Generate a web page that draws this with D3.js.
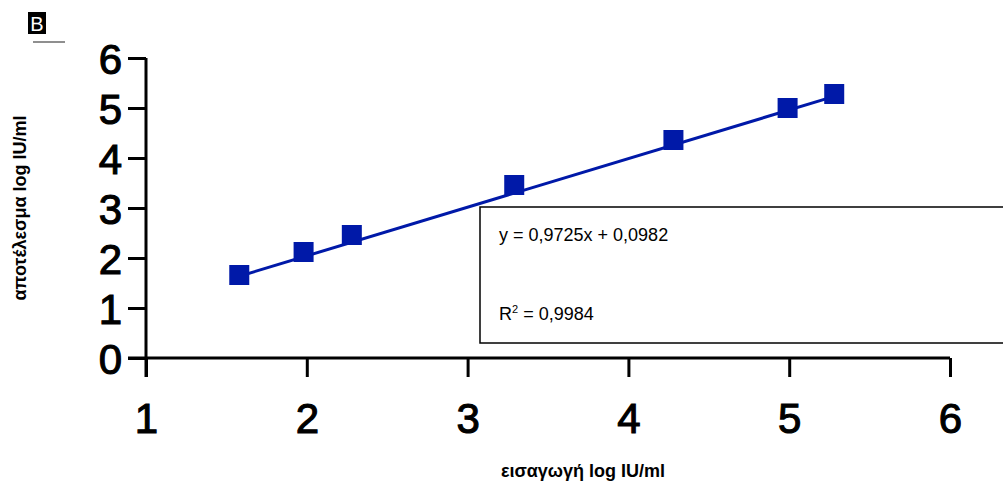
<!DOCTYPE html>
<html>
<head>
<meta charset="utf-8">
<script src="https://cdn.jsdelivr.net/npm/d3@7"></script>
<style>
  body { margin: 0; background: #fff; }
  svg { display: block; font-family: "Liberation Sans", Arial, sans-serif; }
</style>
</head>
<body>
<svg id="chart" width="1003" height="483"></svg>
<script>
const inputLog = [1.58, 1.98, 2.28, 3.29, 4.28, 4.99, 5.28];
const resultLog = [1.66, 2.12, 2.46, 3.46, 4.36, 5.0, 5.28];
const xTicks = [1, 2, 3, 4, 5, 6];
const yTicks = [0, 1, 2, 3, 4, 5, 6];
const slope = 0.9725;
const intercept = 0.0982;
const eqText = 'y = 0,9725x + 0,0982';
const r2Value = ' = 0,9984';

const blue = '#0019a8';
const svg = d3.select('#chart');

const x = d3.scaleLinear().domain([1, 6]).range([146, 950]);
const y = d3.scaleLinear().domain([0, 6]).range([358, 58]);

// "B" panel label
svg.append('rect').attr('x', 28).attr('y', 12).attr('width', 18).attr('height', 22).attr('fill', '#000');
svg.append('text').attr('x', 37).attr('y', 31).attr('text-anchor', 'middle')
    .attr('fill', '#fff').style('font-size', '20px').text('B');
svg.append('line').attr('x1', 33).attr('x2', 65).attr('y1', 42).attr('y2', 42)
    .attr('stroke', '#444').attr('stroke-width', 1.2);

// y axis
const yAxis = svg.append('g').attr('transform', 'translate(146,0)')
    .call(d3.axisLeft(y).tickValues(yTicks).tickSize(18).tickPadding(6).tickFormat(d3.format('d')));
yAxis.select('.domain').remove();
yAxis.append('line').attr('x1', 0).attr('x2', 0).attr('y1', y(6)).attr('y2', 377)
    .attr('stroke', '#000').attr('stroke-width', 3);
yAxis.selectAll('.tick line').attr('stroke-width', 3);
yAxis.selectAll('.tick text').attr('fill', '#000').attr('dy', '0.38em')
    .style('font-size', '42px').style('stroke', '#000').style('stroke-width', '1.1px');

// x axis
const xAxis = svg.append('g').attr('transform', 'translate(0,358)')
    .call(d3.axisBottom(x).tickValues(xTicks).tickSize(19).tickPadding(26).tickFormat(d3.format('d')));
xAxis.select('.domain').remove();
xAxis.append('line').attr('x1', 128).attr('x2', x(6)).attr('y1', 0).attr('y2', 0)
    .attr('stroke', '#000').attr('stroke-width', 3);
xAxis.selectAll('.tick line').attr('stroke-width', 3);
xAxis.selectAll('.tick text').attr('fill', '#000')
    .style('font-size', '42px').style('stroke', '#000').style('stroke-width', '1.1px');

// axis titles
svg.append('text').attr('x', 583).attr('y', 477).attr('text-anchor', 'middle')
    .style('font-size', '18px').style('font-weight', 'bold').text('εισαγωγή log IU/ml');
svg.append('text').attr('transform', 'translate(26,208) rotate(-90)').attr('text-anchor', 'middle')
    .style('font-size', '18px').style('font-weight', 'bold').text('αποτέλεσμα log IU/ml');

// equation box
const box = svg.append('g');
box.append('rect').attr('x', 480).attr('y', 207).attr('width', 540).attr('height', 136)
    .attr('fill', '#fff').attr('stroke', '#000').attr('stroke-width', 1.5);
box.append('text').attr('x', 499).attr('y', 241).style('font-size', '18px').text(eqText);
const r2 = box.append('text').attr('x', 499).attr('y', 320).style('font-size', '18px');
r2.append('tspan').text('R');
r2.append('tspan').attr('dy', -7).style('font-size', '11px').text('2');
r2.append('tspan').attr('dy', 7).text(r2Value);

// trend line
const xExt = d3.extent(inputLog);
svg.append('line')
    .attr('x1', x(xExt[0])).attr('y1', y(slope * xExt[0] + intercept))
    .attr('x2', x(xExt[1])).attr('y2', y(slope * xExt[1] + intercept))
    .attr('stroke', blue).attr('stroke-width', 3);

// markers
const pts = inputLog.map((v, i) => ({ x: v, y: resultLog[i] }));
svg.selectAll('.pt').data(pts).enter().append('rect')
    .attr('class', 'pt')
    .attr('x', d => x(d.x) - 10).attr('y', d => y(d.y) - 10)
    .attr('width', 20).attr('height', 20)
    .attr('fill', blue);
</script>
</body>
</html>
